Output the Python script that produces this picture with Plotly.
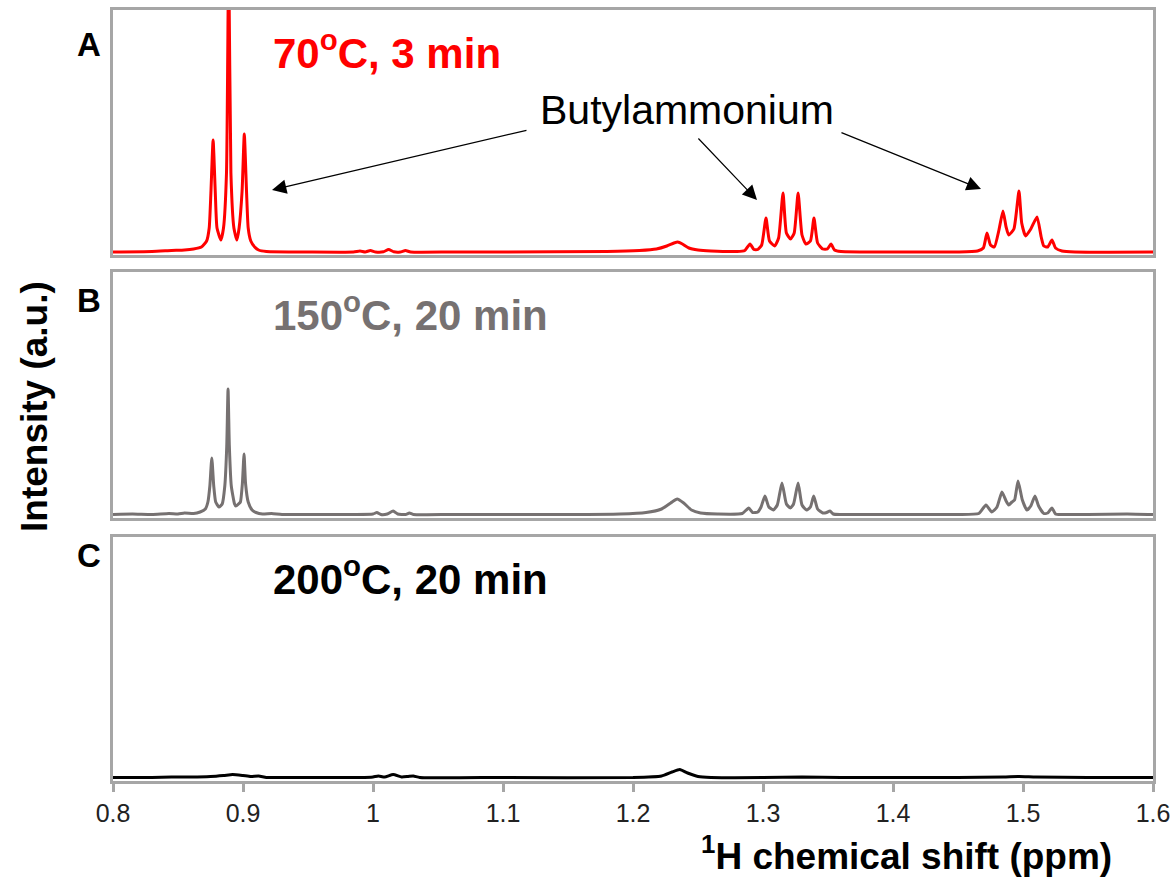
import plotly.graph_objects as go

# ---------------- data ----------------
# chemical shift (ppm) and intensity (a.u.) for each spectrum
shift_A = [0.800, 0.830, 0.845, 0.855, 0.862, 0.868, 0.872, 0.874, 0.8753, 0.877, 0.8787, 0.880, 0.883,
           0.885, 0.8873, 0.889, 0.8907, 0.893, 0.8953, 0.897, 0.8993, 0.901, 0.9027, 0.904, 0.906,
           0.909, 0.912, 0.918, 0.950, 0.985, 0.990, 0.994, 0.998, 1.002, 1.008, 1.012, 1.016, 1.021,
           1.025, 1.029, 1.060, 1.100, 1.180, 1.205, 1.218, 1.226, 1.2315, 1.2345, 1.238, 1.243, 1.250,
           1.260, 1.280, 1.286, 1.290, 1.293, 1.296, 1.299, 1.3023, 1.305, 1.309, 1.312, 1.3154, 1.318,
           1.3212, 1.324, 1.327, 1.330, 1.333, 1.3365, 1.3392, 1.342, 1.346, 1.3495, 1.3523, 1.355,
           1.360, 1.400, 1.450, 1.465, 1.4695, 1.4723, 1.475, 1.478, 1.4815, 1.4846, 1.487, 1.489,
           1.493, 1.4969, 1.499, 1.502, 1.506, 1.5108, 1.514, 1.516, 1.519, 1.5223, 1.525, 1.530,
           1.540, 1.600]
int_A = [1, 1.5, 2.5, 3, 4, 6, 12, 25, 60, 113, 60, 25, 13,
         25, 80, 300, 80, 25, 13, 25, 62, 119, 62, 25, 12,
         6, 3, 1.5, 1, 1, 2, 1, 2.5, 1, 1.2, 3.5, 1.2, 1,
         2.5, 1, 1, 1, 1.5, 2.5, 4, 7, 10, 11, 9, 5, 3,
         2, 1.5, 2.5, 9, 3.5, 3.5, 8, 35, 12, 7, 15, 60, 20,
         14, 20, 60, 18, 9, 12, 35, 10, 4, 4, 9, 3,
         1.5, 1, 1, 2, 5, 20, 8, 6, 23, 42, 26, 18,
         24, 62, 30, 17, 24, 36, 16, 7, 6, 13, 5, 2,
         1, 1]

shift_B = [0.800, 0.815, 0.830, 0.843, 0.850, 0.855, 0.862, 0.867, 0.871, 0.873, 0.8745, 0.876, 0.8775,
           0.879, 0.8815, 0.884, 0.886, 0.8875, 0.8885, 0.8895, 0.891, 0.8935, 0.8945, 0.8965, 0.898,
           0.8995, 0.9008, 0.902, 0.904, 0.907, 0.910, 0.915, 0.922, 0.930, 0.960, 0.985, 1.000, 1.003,
           1.006, 1.011, 1.0155, 1.019, 1.025, 1.028, 1.031, 1.060, 1.100, 1.150, 1.190, 1.210, 1.222,
           1.229, 1.234, 1.239, 1.245, 1.252, 1.265, 1.284, 1.289, 1.292, 1.296, 1.2985, 1.3015, 1.3045,
           1.308, 1.311, 1.3146, 1.318, 1.321, 1.3235, 1.327, 1.330, 1.3335, 1.3365, 1.339, 1.342,
           1.346, 1.349, 1.3515, 1.354, 1.360, 1.400, 1.450, 1.466, 1.4715, 1.476, 1.480, 1.4838,
           1.487, 1.489, 1.4915, 1.4935, 1.4962, 1.4995, 1.503, 1.506, 1.5092, 1.512, 1.516, 1.519,
           1.5223, 1.525, 1.530, 1.550, 1.580, 1.600]
int_B = [1.5, 2, 1.5, 2.5, 2, 3, 2.5, 4, 7, 14, 30, 58, 30,
         14, 9, 12, 30, 70, 127, 70, 30, 12, 10, 12, 14,
         32, 62, 32, 14, 6, 3.5, 2, 2.5, 1.5, 1.5, 1.5, 2, 3.5,
         1.5, 2, 5, 2, 1.5, 3, 1.5, 1.5, 1.5, 1.5, 2, 3.5, 7,
         13, 17, 13, 6, 3, 2, 2.5, 8, 3.5, 4, 9, 20, 9,
         6, 11, 33, 12, 8, 12, 33, 11, 6, 9, 20, 7,
         3, 3.5, 5, 2, 1.5, 1.5, 1.5, 2.5, 11, 4, 9, 24,
         15, 11, 14, 16, 35, 16, 6, 10, 20, 10, 2.5, 3,
         8, 2, 1.5, 1.5, 2, 1.5]

shift_C = [0.800, 0.830, 0.845, 0.860, 0.875, 0.885, 0.892, 0.900, 0.906, 0.912, 0.918, 0.930, 0.960,
           0.990, 1.000, 1.004, 1.009, 1.0155, 1.022, 1.027, 1.031, 1.036, 1.100, 1.200, 1.222, 1.230,
           1.236, 1.242, 1.250, 1.260, 1.300, 1.330, 1.360, 1.450, 1.485, 1.497, 1.510, 1.550, 1.600]
int_C = [1.5, 1.5, 2, 2, 2.5, 3.5, 4.5, 3.5, 2.5, 3, 1.5, 1.5, 1.5,
         1.5, 2, 3, 2, 4.5, 2, 2.5, 3, 1.5, 1.5, 1.5, 3, 7,
         9.5, 6, 2.5, 1.5, 1.5, 2, 1.5, 1.5, 2, 2.5, 2, 1.5, 1.5]

tick_vals = [0.8, 0.9, 1.0, 1.1, 1.2, 1.3, 1.4, 1.5, 1.6]
tick_text = ["0.8", "0.9", "1", "1.1", "1.2", "1.3", "1.4", "1.5", "1.6"]

panel_letters = ["A", "B", "C"]
panel_labels = ["70<sup>o</sup>C, 3 min", "150<sup>o</sup>C, 20 min", "200<sup>o</sup>C, 20 min"]
panel_colors = ["#ff0000", "#767171", "#000000"]

# ---------------- figure ----------------
FONT = "Arial, Liberation Sans, sans-serif"
W, H = 1172, 882
ML, MR, MT, MB = 113, 19, 10, 101
PW, PH = W - ML - MR, H - MT - MB


def px2paper(px, py):
    return (px - ML) / PW, (H - MB - py) / PH


fig = go.Figure()
for xs, ys, col, xa, ya in [(shift_A, int_A, panel_colors[0], "x", "y"),
                            (shift_B, int_B, panel_colors[1], "x2", "y2"),
                            (shift_C, int_C, panel_colors[2], "x3", "y3")]:
    fig.add_trace(go.Scatter(x=xs, y=ys, mode="lines",
                             line=dict(color=col, width=3, shape="spline", smoothing=0.5),
                             xaxis=xa, yaxis=ya, showlegend=False))

BORDER = "#a6a6a6"
common_x = dict(range=[0.8, 1.6], showline=True, mirror=True, linecolor=BORDER, linewidth=3,
                showgrid=False, zeroline=False)
common_y = dict(showline=True, mirror=True, linecolor=BORDER, linewidth=3, showgrid=False,
                zeroline=False, showticklabels=False, ticks="")

# pixel boxes of the three panels (top, bottom)
boxes = [(10, 255), (272, 518), (537, 781)]
doms = []
for top, bot in boxes:
    doms.append([(H - MB - bot) / PH, (H - MB - top) / PH])

fig.update_layout(
    width=W, height=H,
    margin=dict(l=ML, r=MR, t=MT, b=MB, autoexpand=False),
    paper_bgcolor="white", plot_bgcolor="white",
    font=dict(family=FONT, color="#222222"),
    xaxis=dict(**common_x, anchor="y", showticklabels=False, ticks=""),
    yaxis=dict(**common_y, domain=doms[0], range=[-2, 243], anchor="x"),
    xaxis2=dict(**common_x, anchor="y2", showticklabels=False, ticks=""),
    yaxis2=dict(**common_y, domain=doms[1], range=[-2, 244], anchor="x2"),
    xaxis3=dict(**common_x, anchor="y3", tickmode="array", tickvals=tick_vals, ticktext=tick_text,
                ticks="outside", ticklen=8, tickwidth=2.5, tickcolor=BORDER,
                tickfont=dict(family=FONT, size=25, color="#222222")),
    yaxis3=dict(**common_y, domain=doms[2], range=[-2, 242], anchor="x3"),
)

ann = []
# panel letters
for letter, cy in zip(panel_letters, [45, 300, 555]):
    x, y = px2paper(89, cy)
    ann.append(dict(text="<b>%s</b>" % letter, x=x, y=y, xref="paper", yref="paper",
                    xanchor="center", yanchor="middle", showarrow=False,
                    font=dict(family=FONT, size=33, color="black")))
# panel condition labels
for lab, col, cy in zip(panel_labels, panel_colors, [50, 312, 576]):
    x, y = px2paper(271, cy)
    ann.append(dict(text="<b>%s</b>" % lab, x=x, y=y, xref="paper", yref="paper",
                    xanchor="left", yanchor="middle", showarrow=False,
                    font=dict(family=FONT, size=42, color=col)))
# Butylammonium
x, y = px2paper(687, 110)
ann.append(dict(text="Butylammonium", x=x, y=y, xref="paper", yref="paper", xanchor="center",
                yanchor="middle", showarrow=False, font=dict(family=FONT, size=41, color="black")))
# arrows (tip, tail) in data coordinates of panel A
arrows = [((0.9223, 63), (1.1192, 123)), ((1.2954, 53), (1.2492, 116)), ((1.4677, 64), (1.3592, 121))]
for (tx, ty), (sx, sy) in arrows:
    ann.append(dict(x=tx, y=ty, ax=sx, ay=sy, xref="x", yref="y", axref="x", ayref="y", text="",
                    showarrow=True, arrowhead=2, arrowsize=2.4, arrowwidth=1.2, arrowcolor="black"))
# axis titles
x, y = px2paper(906, 853)
ann.append(dict(text="<b><sup>1</sup>H chemical shift (ppm)</b>", x=x, y=y, xref="paper", yref="paper",
                xanchor="center", yanchor="middle", showarrow=False,
                font=dict(family=FONT, size=37, color="black")))
x, y = px2paper(35, 407)
ann.append(dict(text="<b>Intensity (a.u.)</b>", x=x, y=y, xref="paper", yref="paper", textangle=-90,
                xanchor="center", yanchor="middle", showarrow=False,
                font=dict(family=FONT, size=37, color="black")))
fig.update_layout(annotations=ann)

# remove the default page margin so the figure fills the 1172x882 window exactly
fig.write_html("out.html", config={"displayModeBar": False},
               post_script="document.body.style.margin='0';document.body.style.overflow='hidden';")
